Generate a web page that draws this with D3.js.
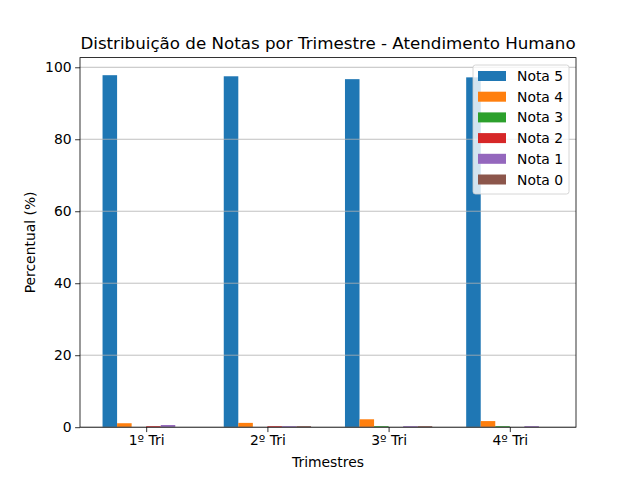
<!DOCTYPE html>
<html>
<head>
<meta charset="utf-8">
<script src="https://cdn.jsdelivr.net/npm/d3@7"></script>
<style>
  body { margin: 0; background: #fff; }
  text { font-family: "DejaVu Sans", sans-serif; fill: #000; }
</style>
</head>
<body>
<svg width="640" height="480"></svg>
<script>
// data
var trimestres = ["1º Tri", "2º Tri", "3º Tri", "4º Tri"];
var notas = ["Nota 5", "Nota 4", "Nota 3", "Nota 2", "Nota 1", "Nota 0"];
var nota5 = [97.8, 97.5, 96.7, 97.2];
var nota4 = [1.1, 1.2, 2.2, 1.7];
var nota3 = [0.0, 0.0, 0.3, 0.3];
var nota2 = [0.3, 0.3, 0.0, 0.0];
var nota1 = [0.6, 0.3, 0.3, 0.3];
var nota0 = [0.0, 0.3, 0.3, 0.0];
var yTicks = [0, 20, 40, 60, 80, 100];

var series = [nota5, nota4, nota3, nota2, nota1, nota0];
var colors = ["#1f77b4", "#ff7f0e", "#2ca02c", "#d62728", "#9467bd", "#8c564b"];

// plot area (window.top is reserved, so use other names)
var plotL = 80, plotR = 576, plotT = 57.6, plotB = 427.2;
var barW = 0.12;

var svg = d3.select("svg");

var x = d3.scaleLinear()
  .domain([-0.546, 3.546])
  .range([plotL, plotR]);

var y = d3.scaleLinear()
  .domain([0, 102.69])
  .range([plotB, plotT]);

// bars
series.forEach(function(vals, s) {
  svg.selectAll(".bar" + s)
    .data(vals)
    .enter()
    .append("rect")
    .attr("x", function(d, i) { return x(i + (s - 3) * barW); })
    .attr("width", x(barW) - x(0))
    .attr("y", function(d) { return y(d); })
    .attr("height", function(d) { return plotB - y(d); })
    .attr("fill", colors[s]);
});

// grid (drawn over the bars like matplotlib)
svg.selectAll(".grid")
  .data(yTicks)
  .enter()
  .append("line")
  .attr("x1", plotL).attr("x2", plotR)
  .attr("y1", function(d) { return y(d); })
  .attr("y2", function(d) { return y(d); })
  .attr("stroke", "#b0b0b0")
  .attr("stroke-width", 0.8);

// axes
var xAxis = d3.axisBottom(x)
  .tickValues([0, 1, 2, 3])
  .tickFormat(function(d) { return trimestres[d]; })
  .tickSize(4.9).tickPadding(3.5);

var yAxis = d3.axisLeft(y)
  .tickValues(yTicks)
  .tickSize(4.9).tickPadding(3.5);

var gx = svg.append("g")
  .attr("transform", "translate(0," + plotB + ")")
  .call(xAxis);
var gy = svg.append("g")
  .attr("transform", "translate(" + plotL + ",0)")
  .call(yAxis);

[gx, gy].forEach(function(g) {
  g.select(".domain").remove();
  g.selectAll("line").attr("stroke", "#000").attr("stroke-width", 0.8);
  g.selectAll("text").attr("font-size", "13.9px").attr("font-family", "DejaVu Sans");
});

// frame
svg.append("rect")
  .attr("x", plotL).attr("y", plotT)
  .attr("width", plotR - plotL).attr("height", plotB - plotT)
  .attr("fill", "none").attr("stroke", "#000").attr("stroke-width", 0.8);

// labels
svg.append("text")
  .attr("x", (plotL + plotR) / 2).attr("y", 49)
  .attr("text-anchor", "middle")
  .attr("font-size", "16.7px")
  .text("Distribuição de Notas por Trimestre - Atendimento Humano");

svg.append("text")
  .attr("x", (plotL + plotR) / 2).attr("y", 467)
  .attr("text-anchor", "middle")
  .attr("font-size", "13.9px")
  .text("Trimestres");

svg.append("text")
  .attr("transform", "translate(35," + (plotT + plotB) / 2 + ") rotate(-90)")
  .attr("text-anchor", "middle")
  .attr("font-size", "13.9px")
  .text("Percentual (%)");

// legend
var lg = svg.append("g");
lg.append("rect")
  .attr("x", 473).attr("y", 65)
  .attr("width", 96).attr("height", 129)
  .attr("rx", 2.5)
  .attr("fill", "#fff").attr("fill-opacity", 0.8)
  .attr("stroke", "#cccccc").attr("stroke-width", 0.8);

var items = lg.selectAll(".item")
  .data(notas)
  .enter()
  .append("g")
  .attr("transform", function(d, i) { return "translate(0," + (76 + i * 20.7) + ")"; });

items.append("rect")
  .attr("x", 478).attr("y", -5)
  .attr("width", 28).attr("height", 10)
  .attr("fill", function(d, i) { return colors[i]; });

items.append("text")
  .attr("x", 517).attr("y", 5)
  .attr("font-size", "13.9px")
  .text(function(d) { return d; });
</script>
</body>
</html>
